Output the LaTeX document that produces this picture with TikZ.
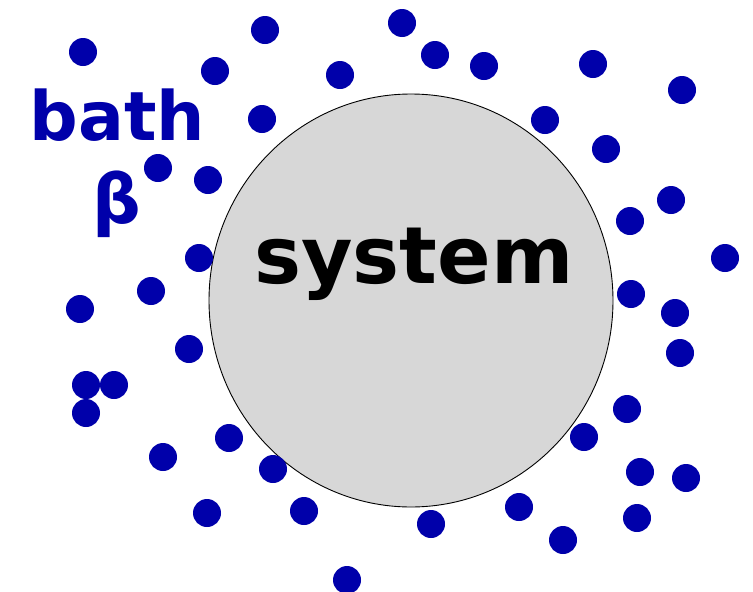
\documentclass[tikz,border=0pt]{standalone}
\usepackage{fontspec}
\setmainfont{DejaVu Sans}
\usepackage{xcolor}
\definecolor{bathblue}{RGB}{0,0,170}
\definecolor{sysgray}{RGB}{215,215,215}
\usetikzlibrary{positioning}

\begin{document}
\begin{tikzpicture}[x=1pt, y=-1pt, font=\bfseries,
		bigtext/.style={inner sep=0pt, anchor=base, font=\fontsize{79}{90}\selectfont\bfseries},
		bathtext/.style={inner sep=0pt, anchor=base, text=bathblue, font=\fontsize{68}{80}\selectfont\bfseries}]
			\useasboundingbox (0,0) rectangle (753,592);
			% the system
			\draw[fill=sysgray, line width=0.9pt] (411,300.5) ellipse (202 and 206.5);
			\node[bigtext] (system) at (414,283) {system};
			% the bath
			\node[bathtext] (bath) at (117.5,140) {bath};
			\node[bathtext] (beta) at (117,223) {β};
			\foreach \x/\y in {83/52, 265/30, 215/71, 340/75, 402/23, 435/55, 484/66, 593/64,
					682/90, 262/119, 545/120, 606/149, 158/168, 208/180, 671/200, 630/221,
					199/258, 725/258, 151/291, 631/294, 80/309, 675/313, 189/349, 680/353,
					86/385, 114/385, 86/413, 627/409, 229/438, 584/437, 163/457, 273/469,
					640/472, 686/478, 207/513, 304/511, 431/524, 519/507, 563/540, 637/518,
					347/580}
				\fill[bathblue] (\x,\y) circle (14);
		\end{tikzpicture}
\end{document}
